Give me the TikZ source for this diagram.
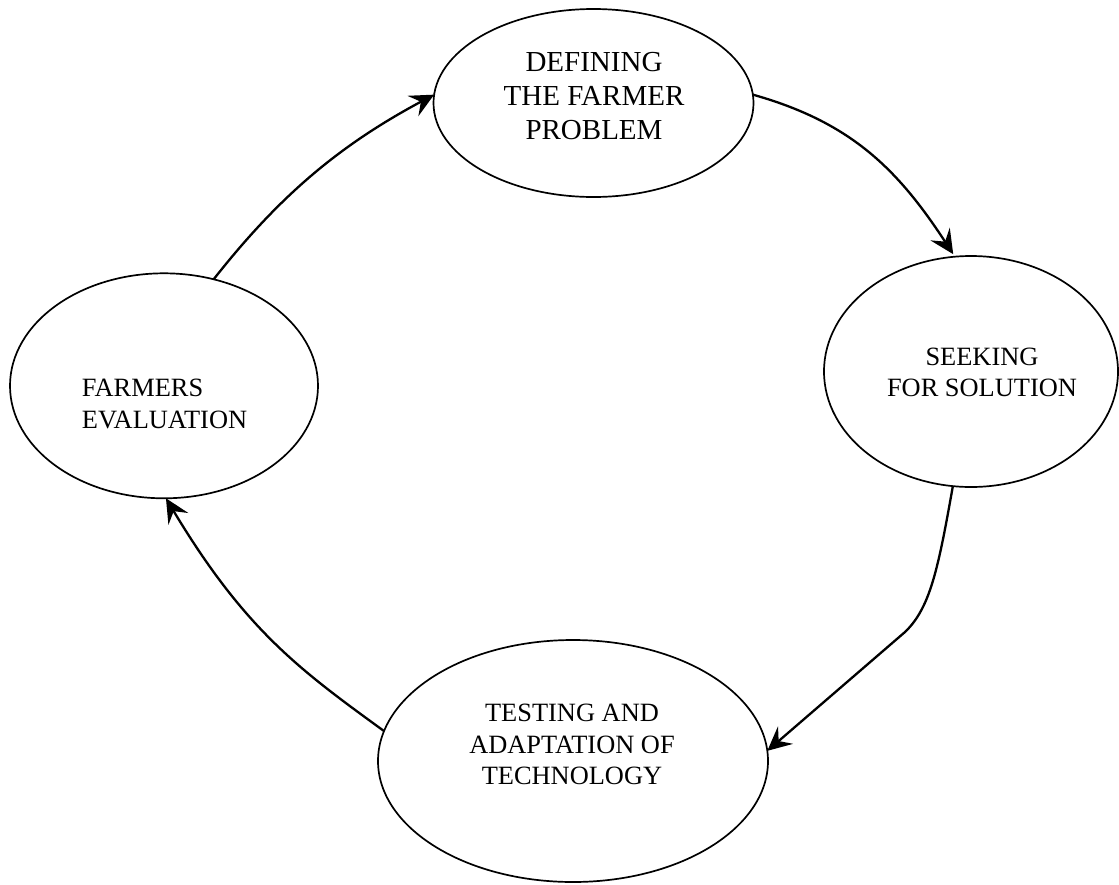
\documentclass[tikz,border=0pt]{standalone}
\usepackage{fontspec}
\setmainfont{Liberation Serif}
\usetikzlibrary{arrows.meta,shapes.geometric}
\begin{document}
\begin{tikzpicture}[x=1pt,y=-1pt,
  stage/.style={draw, ellipse, line width=1.7pt, inner sep=0pt, outer sep=0pt},
  conn/.style={line width=2.3pt, -{Stealth[length=24pt,width=23pt,inset=9pt]}},
  big/.style={font=\fontsize{29}{34}\selectfont, inner sep=0pt},
  mid/.style={font=\fontsize{26.4}{31.5}\selectfont, inner sep=0pt}]
\useasboundingbox (0,0) rectangle (1119,884);

% the four stages of the cycle
\node[stage, minimum width=320pt, minimum height=188pt] (def)  at (593.5,103) {};
\node[stage, minimum width=294pt, minimum height=231pt] (seek) at (971,371.5) {};
\node[stage, minimum width=390pt, minimum height=242pt] (test) at (573,761) {};
\node[stage, minimum width=308pt, minimum height=225pt] (farm) at (164,385.8) {};

% stage labels
\node[big, anchor=base] (deftxt) at (594,71.7)
  {\begin{tabular}[t]{@{}c@{}}DEFINING\\THE FARMER\\PROBLEM\end{tabular}};
\node[mid, anchor=base] (seektxt) at (982,365)
  {\begin{tabular}[t]{@{}c@{}}SEEKING\\FOR SOLUTION\end{tabular}};
\node[mid, anchor=base] (testtxt) at (572,721.7)
  {\begin{tabular}[t]{@{}c@{}}TESTING AND\\ADAPTATION OF\\TECHNOLOGY\end{tabular}};
\node[mid, anchor=base west] (farmtxt) at (81.7,396.7)
  {\begin{tabular}[t]{@{}l@{}}FARMERS\\EVALUATION\end{tabular}};

% cycle arrows
\draw[conn] (farm.65.9) .. controls (280,195) and (340,145) .. (def.177.9);
\draw[conn, shorten >=3pt] (def.3.6) .. controls (850,122) and (897,168) .. (seek.98.4);
\draw[conn] (seek.261.9) .. controls (938,570) and (930,608) .. (905,632) -- (test.3.8);
\draw[conn] (test.171.4) .. controls (300,670) and (245,630) .. (farm.271);
\end{tikzpicture}
\end{document}
